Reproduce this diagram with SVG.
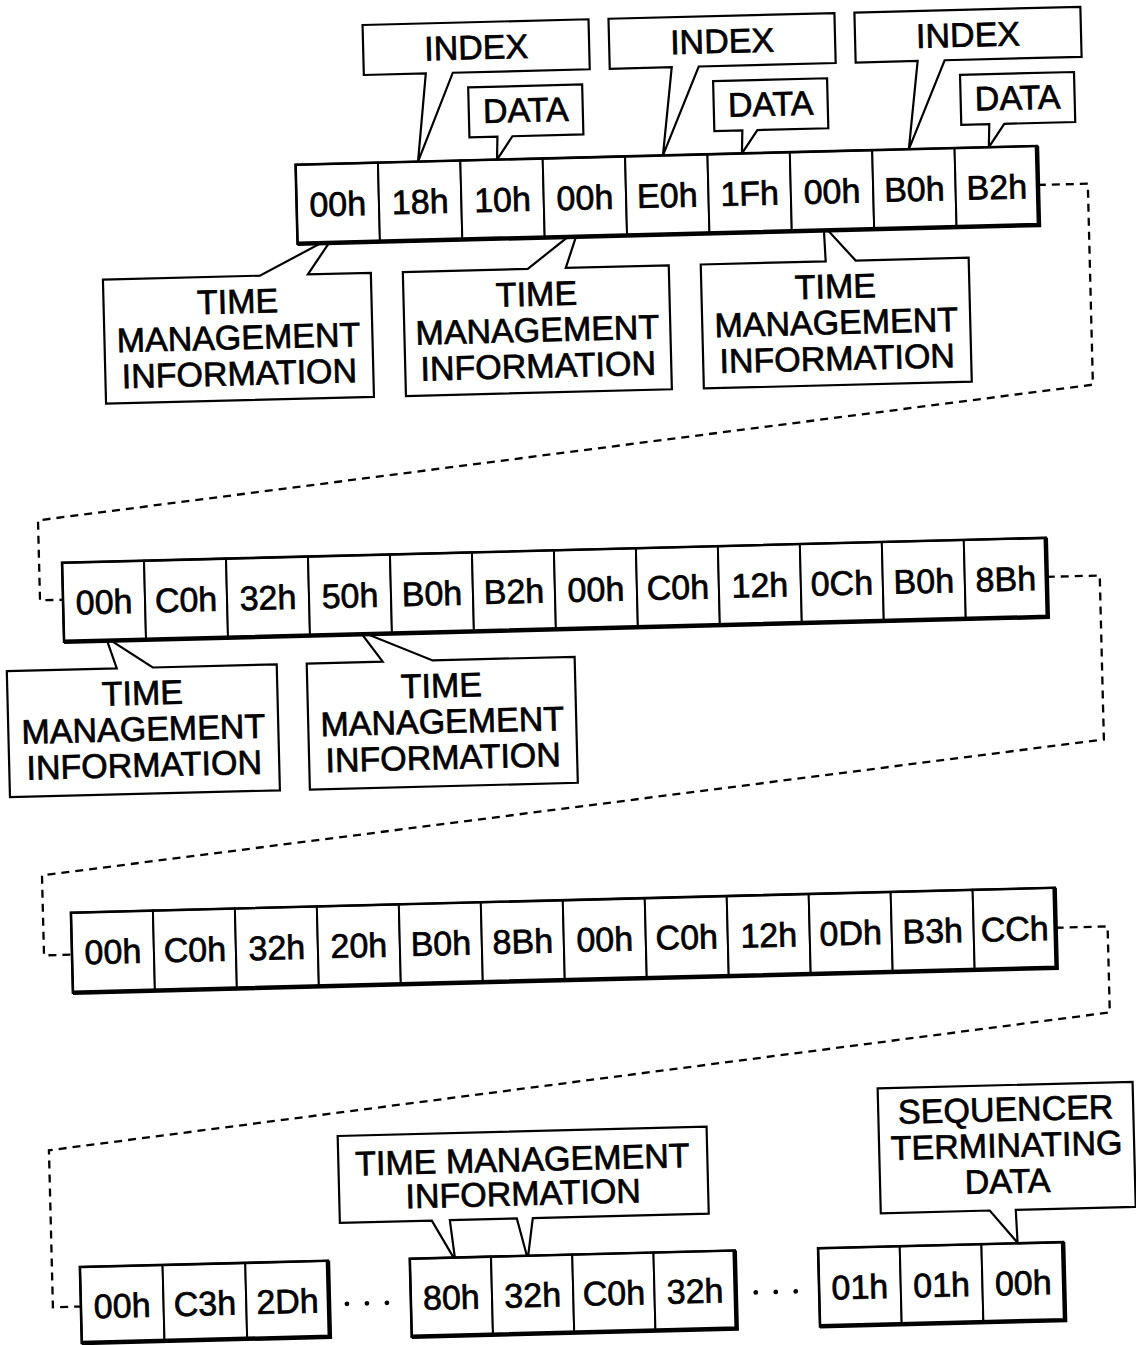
<svg xmlns="http://www.w3.org/2000/svg" width="1136" height="1345" viewBox="0 0 1136 1345">
<style>
.bg{fill:#fff}
.cell{fill:#fff;stroke:#000;stroke-width:2}
.frame{fill:none;stroke:#000;stroke-width:2.6}
.shadow{fill:none;stroke:#000;stroke-width:4.5;stroke-linejoin:miter}
.co{fill:#fff;stroke:#000;stroke-width:2.2;stroke-linejoin:miter}
.dash{fill:none;stroke:#000;stroke-width:2.3;stroke-dasharray:8 6}
text{font-family:"Liberation Sans",Arial,Helvetica,sans-serif;fill:#000;stroke:#000;stroke-width:0.7;text-anchor:middle}
.hex{font-size:34px}
.lbl{font-size:34px}
.dot{fill:#000}
</style>
<rect class="bg" x="0" y="0" width="1136" height="1345"/>
<g transform="rotate(-1.45 568 672)">
<g id="connectors">
<path class="dash" d="M1050,197 H1100 V398 L42,507 V587 H65"/>
<path class="dash" d="M1049,589 H1102 V753 L37,862 V942 H65"/>
<path class="dash" d="M1049,940 H1101 V1026 L37,1137 V1294 H65"/>
</g>
<!-- Row 1 callouts -->
<g id="index1"><path class="co" d="M379,20 H605 V70 H468 L431,158 L441,70 H379 Z"/><text class="lbl" x="492" y="57">INDEX</text></g>
<g id="index2"><path class="co" d="M625,20 H851 V70 H714 L676,158 L687,70 H625 Z"/><text class="lbl" x="738" y="57">INDEX</text></g>
<g id="index3"><path class="co" d="M871,20 H1097 V70 H960 L922,158 L933,70 H871 Z"/><text class="lbl" x="984" y="57">INDEX</text></g>
<g id="data1"><path class="co" d="M483,85 H597 V135 H526 L510,158 L511,135 H483 Z"/><text class="lbl" x="540" y="121">DATA</text></g>
<g id="data2"><path class="co" d="M728,85 H842 V135 H771 L755,158 L756,135 H728 Z"/><text class="lbl" x="785" y="121">DATA</text></g>
<g id="data3"><path class="co" d="M975,85 H1089 V135 H1018 L1002,158 L1003,135 H975 Z"/><text class="lbl" x="1032" y="121">DATA</text></g>
<g id="tmi1"><path class="co" d="M113,268 H270 L332,237 L340,237 L318,268 H381 V392 H113 Z"/><text class="lbl" x="247" y="305">TIME</text><text class="lbl" x="247" y="341">MANAGEMENT</text><text class="lbl" x="247" y="377">INFORMATION</text></g>
<g id="tmi2"><path class="co" d="M413,268 H538 L579,237 L587,237 L576,268 H679 V392 H413 Z"/><text class="lbl" x="546" y="305">TIME</text><text class="lbl" x="546" y="341">MANAGEMENT</text><text class="lbl" x="546" y="377">INFORMATION</text></g>
<g id="tmi3"><path class="co" d="M711,268 H836 L835,237 L839,237 L866,268 H979 V392 H711 Z"/><text class="lbl" x="845" y="305">TIME</text><text class="lbl" x="845" y="341">MANAGEMENT</text><text class="lbl" x="845" y="377">INFORMATION</text></g>
<!-- Row 1 -->
<g id="row1">
<g id="r1c1"><rect class="cell" x="308.5" y="158" width="82.4" height="79"/><text class="hex" x="349.7" y="210">00h</text></g>
<g id="r1c2"><rect class="cell" x="390.9" y="158" width="82.4" height="79"/><text class="hex" x="432.1" y="210">18h</text></g>
<g id="r1c3"><rect class="cell" x="473.3" y="158" width="82.4" height="79"/><text class="hex" x="514.5" y="210">10h</text></g>
<g id="r1c4"><rect class="cell" x="555.7" y="158" width="82.4" height="79"/><text class="hex" x="596.9" y="210">00h</text></g>
<g id="r1c5"><rect class="cell" x="638.1" y="158" width="82.4" height="79"/><text class="hex" x="679.3" y="210">E0h</text></g>
<g id="r1c6"><rect class="cell" x="720.5" y="158" width="82.4" height="79"/><text class="hex" x="761.7" y="210">1Fh</text></g>
<g id="r1c7"><rect class="cell" x="802.9" y="158" width="82.4" height="79"/><text class="hex" x="844.1" y="210">00h</text></g>
<g id="r1c8"><rect class="cell" x="885.3" y="158" width="82.4" height="79"/><text class="hex" x="926.5" y="210">B0h</text></g>
<g id="r1c9"><rect class="cell" x="967.7" y="158" width="82.4" height="79"/><text class="hex" x="1008.9" y="210">B2h</text></g>
<rect class="frame" x="308.5" y="158" width="741.6" height="79"/>
<path class="shadow" d="M1050.1,158 V237 H308.5"/>
</g>
<!-- Row 2 callouts -->
<g id="tmiA"><path class="co" d="M7,657 H117 L108,629 L112,629 L153,657 H277 V783 H7 Z"/><text class="lbl" x="142" y="694">TIME</text><text class="lbl" x="142" y="730">MANAGEMENT</text><text class="lbl" x="142" y="766">INFORMATION</text></g>
<g id="tmiB"><path class="co" d="M307,657 H383 L363,629 L368,629 L433,657 H575 V783 H307 Z"/><text class="lbl" x="441" y="694">TIME</text><text class="lbl" x="441" y="730">MANAGEMENT</text><text class="lbl" x="441" y="766">INFORMATION</text></g>
<!-- Row 2 -->
<g id="row2">
<g id="r2c1"><rect class="cell" x="65" y="550" width="82" height="79"/><text class="hex" x="106" y="602">00h</text></g>
<g id="r2c2"><rect class="cell" x="147" y="550" width="82" height="79"/><text class="hex" x="188" y="602">C0h</text></g>
<g id="r2c3"><rect class="cell" x="229" y="550" width="82" height="79"/><text class="hex" x="270" y="602">32h</text></g>
<g id="r2c4"><rect class="cell" x="311" y="550" width="82" height="79"/><text class="hex" x="352" y="602">50h</text></g>
<g id="r2c5"><rect class="cell" x="393" y="550" width="82" height="79"/><text class="hex" x="434" y="602">B0h</text></g>
<g id="r2c6"><rect class="cell" x="475" y="550" width="82" height="79"/><text class="hex" x="516" y="602">B2h</text></g>
<g id="r2c7"><rect class="cell" x="557" y="550" width="82" height="79"/><text class="hex" x="598" y="602">00h</text></g>
<g id="r2c8"><rect class="cell" x="639" y="550" width="82" height="79"/><text class="hex" x="680" y="602">C0h</text></g>
<g id="r2c9"><rect class="cell" x="721" y="550" width="82" height="79"/><text class="hex" x="762" y="602">12h</text></g>
<g id="r2c10"><rect class="cell" x="803" y="550" width="82" height="79"/><text class="hex" x="844" y="602">0Ch</text></g>
<g id="r2c11"><rect class="cell" x="885" y="550" width="82" height="79"/><text class="hex" x="926" y="602">B0h</text></g>
<g id="r2c12"><rect class="cell" x="967" y="550" width="82" height="79"/><text class="hex" x="1008" y="602">8Bh</text></g>
<rect class="frame" x="65" y="550" width="984" height="79"/>
<path class="shadow" d="M1049,550 V629 H65"/>
</g>
<!-- Row 3 -->
<g id="row3">
<g id="r3c1"><rect class="cell" x="65" y="900" width="82" height="80"/><text class="hex" x="106" y="952">00h</text></g>
<g id="r3c2"><rect class="cell" x="147" y="900" width="82" height="80"/><text class="hex" x="188" y="952">C0h</text></g>
<g id="r3c3"><rect class="cell" x="229" y="900" width="82" height="80"/><text class="hex" x="270" y="952">32h</text></g>
<g id="r3c4"><rect class="cell" x="311" y="900" width="82" height="80"/><text class="hex" x="352" y="952">20h</text></g>
<g id="r3c5"><rect class="cell" x="393" y="900" width="82" height="80"/><text class="hex" x="434" y="952">B0h</text></g>
<g id="r3c6"><rect class="cell" x="475" y="900" width="82" height="80"/><text class="hex" x="516" y="952">8Bh</text></g>
<g id="r3c7"><rect class="cell" x="557" y="900" width="82" height="80"/><text class="hex" x="598" y="952">00h</text></g>
<g id="r3c8"><rect class="cell" x="639" y="900" width="82" height="80"/><text class="hex" x="680" y="952">C0h</text></g>
<g id="r3c9"><rect class="cell" x="721" y="900" width="82" height="80"/><text class="hex" x="762" y="952">12h</text></g>
<g id="r3c10"><rect class="cell" x="803" y="900" width="82" height="80"/><text class="hex" x="844" y="952">0Dh</text></g>
<g id="r3c11"><rect class="cell" x="885" y="900" width="82" height="80"/><text class="hex" x="926" y="952">B3h</text></g>
<g id="r3c12"><rect class="cell" x="967" y="900" width="82" height="80"/><text class="hex" x="1008" y="952">CCh</text></g>
<rect class="frame" x="65" y="900" width="984" height="80"/>
<path class="shadow" d="M1049,900 V980 H65"/>
</g>
<!-- Row 4 callouts -->
<g id="tmiC"><path class="co" d="M326,1130 H695 V1217 H519 L513.5,1254 L512,1254 L503,1217 H436 L440,1254 L438.5,1254 L418,1217 H326 Z"/><text class="lbl" x="510" y="1170">TIME MANAGEMENT</text><text class="lbl" x="510" y="1204">INFORMATION</text></g>
<g id="seq"><path class="co" d="M867,1096 H1122 V1221 H1002 L1003,1254 L976,1221 H867 Z"/><text class="lbl" x="994.5" y="1132">SEQUENCER</text><text class="lbl" x="994.5" y="1168">TERMINATING</text><text class="lbl" x="994.5" y="1204">DATA</text></g>
<!-- Row 4 -->
<g id="row4a">
<g id="r4c1"><rect class="cell" x="65" y="1254.5" width="82.7" height="76"/><text class="hex" x="106.3" y="1306">00h</text></g>
<g id="r4c2"><rect class="cell" x="147.7" y="1254.5" width="82.7" height="76"/><text class="hex" x="189" y="1306">C3h</text></g>
<g id="r4c3"><rect class="cell" x="230.4" y="1254.5" width="82.7" height="76"/><text class="hex" x="271.7" y="1306">2Dh</text></g>
<rect class="frame" x="65" y="1254.5" width="248.1" height="76"/>
<path class="shadow" d="M313.1,1254.5 V1330.5 H65"/>
</g>
<g id="ellipsis1"><circle class="dot" cx="331" cy="1298" r="2.4"/><circle class="dot" cx="351" cy="1298" r="2.4"/><circle class="dot" cx="371" cy="1298" r="2.4"/></g>
<g id="row4b">
<g id="r4c4"><rect class="cell" x="395" y="1254.5" width="81.25" height="78"/><text class="hex" x="435.6" y="1306">80h</text></g>
<g id="r4c5"><rect class="cell" x="476.25" y="1254.5" width="81.25" height="78"/><text class="hex" x="516.9" y="1306">32h</text></g>
<g id="r4c6"><rect class="cell" x="557.5" y="1254.5" width="81.25" height="78"/><text class="hex" x="598.1" y="1306">C0h</text></g>
<g id="r4c7"><rect class="cell" x="638.75" y="1254.5" width="81.25" height="78"/><text class="hex" x="679.4" y="1306">32h</text></g>
<rect class="frame" x="395" y="1254.5" width="325" height="78"/>
<path class="shadow" d="M720,1254.5 V1332.5 H395"/>
</g>
<g id="ellipsis2"><circle class="dot" cx="740" cy="1297" r="2.4"/><circle class="dot" cx="760" cy="1297" r="2.4"/><circle class="dot" cx="780" cy="1297" r="2.4"/></g>
<g id="row4c">
<g id="r4c8"><rect class="cell" x="803.4" y="1254.5" width="81.7" height="78"/><text class="hex" x="844.2" y="1306">01h</text></g>
<g id="r4c9"><rect class="cell" x="885.1" y="1254.5" width="81.7" height="78"/><text class="hex" x="926" y="1306">01h</text></g>
<g id="r4c10"><rect class="cell" x="966.8" y="1254.5" width="81.7" height="78"/><text class="hex" x="1007.6" y="1306">00h</text></g>
<rect class="frame" x="803.4" y="1254.5" width="245.1" height="78"/>
<path class="shadow" d="M1048.5,1254.5 V1332.5 H803.4"/>
</g>
</g>
</svg>
